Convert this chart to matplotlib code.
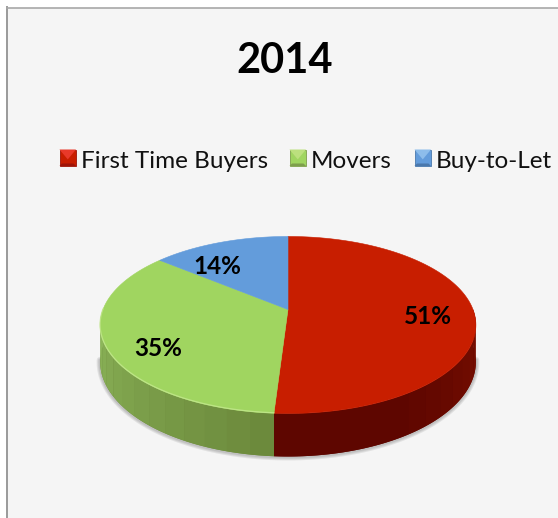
"""Perspective pie of 2014 buyer shares, drawn in pixel space."""

import numpy as np
import matplotlib

matplotlib.use("Agg")
import matplotlib.pyplot as plt
from matplotlib.collections import PolyCollection
from matplotlib.patches import Polygon, Rectangle

TITLE = "2014"
categories = ["First Time Buyers", "Movers", "Buy-to-Let"]
shares = [51, 35, 14]
share_labels = ["51%", "35%", "14%"]

top_colors = ["#C81E00", "#A0D560", "#639CDB"]
side_start = ["#7C0F00", "#8DB65A", "#4F7DB0"]
side_end = ["#5E0600", "#6C8A3C", "#3E6590"]
legend_light = ["#E8392A", "#BCE07E", "#8DBDEB"]
legend_dark = ["#9E1408", "#7E9F4C", "#4A78AC"]

# pie geometry in image pixels
CX, CY = 288.0, 309.5
RX, RY = 185.0, 85.8
PERSP = 0.175
DEPTH = 43.0


def project(angle):
    """Angle clockwise from 12 o'clock on the disc to image x, y."""
    u = np.sin(angle)
    v = np.cos(angle)
    w = 1 + PERSP * v
    return CX + RX * u / w, CY - RY * v / w


def wall_height(angle):
    # the wall shrinks away from the front, same perspective as the disc
    return DEPTH * (1 - PERSP) / (1 + PERSP * np.cos(angle))


def slice_bounds():
    edges = np.cumsum([0] + shares) / sum(shares) * 2 * np.pi
    return list(zip(edges[:-1], edges[1:]))


fig = plt.figure(figsize=(5.58, 5.18), dpi=100, facecolor="white")
ax = fig.add_axes([0, 0, 1, 1])
ax.set_xlim(0, 558)
ax.set_ylim(518, 0)
ax.axis("off")

# chart area and its border
ax.add_patch(Rectangle((7, 8), 551, 510, fc="#F5F5F5", ec="none", zorder=0))
ax.plot([6.5, 6.5], [7, 518], color="#9A9A9A", lw=1.4, zorder=1)
ax.plot([6.5, 558], [7.5, 7.5], color="#A8A8A8", lw=1.2, zorder=1)

# soft shadow under the front of the wall
ring = np.linspace(np.pi * 0.55, np.pi * 1.45, 240)
sx, sy = project(ring)
for lw in [5, 3.5, 2]:
    ax.plot(sx, sy + wall_height(ring) + 0.5, color="#555555", alpha=0.12, lw=lw, zorder=1.5,
            solid_capstyle="round")

# side wall, only the part facing the viewer
quads = []
quad_colors = []
for i, (a0, a1) in enumerate(slice_bounds()):
    a0 = max(a0, np.pi / 2)
    a1 = min(a1, 3 * np.pi / 2)
    if a1 <= a0:
        continue
    steps = np.linspace(a0, a1, int((a1 - a0) * 9) + 2)

    # solid base so the seams between facets stay closed
    arc = np.linspace(a0, a1, 160)
    bx, by = project(arc)
    bh = wall_height(arc)
    outline = list(zip(bx, by)) + list(zip(bx[::-1], (by + bh)[::-1]))
    ax.add_patch(Polygon(outline, closed=True, fc=side_end[i], ec="none", zorder=1.8))

    c0 = np.array(matplotlib.colors.to_rgb(side_start[i]))
    c1 = np.array(matplotlib.colors.to_rgb(side_end[i]))
    for j in range(len(steps) - 1):
        fine = np.linspace(steps[j], steps[j + 1], 12)
        fx, fy = project(fine)
        fh = wall_height(fine)
        quads.append(list(zip(fx, fy)) + list(zip(fx[::-1], (fy + fh)[::-1])))
        # darkest toward the front for green, toward the right for red
        t = j / max(len(steps) - 2, 1)
        t = 1 - t if i == 1 else min(t * 1.6, 1)
        quad_colors.append(c0 * (1 - t) + c1 * t)
ax.add_collection(PolyCollection(quads, facecolors=quad_colors, edgecolors="none", zorder=2))

# top faces
for i, (a0, a1) in enumerate(slice_bounds()):
    arc = np.linspace(a0, a1, 200)
    px, py = project(arc)
    pts = [(CX, CY)] + list(zip(px, py))
    ax.add_patch(Polygon(pts, closed=True, fc=top_colors[i], ec=top_colors[i], lw=0.4, zorder=3))

# thin bevel line on the front rim of the green slice
front = slice_bounds()
arc = np.linspace(max(front[1][0], np.pi / 2), min(front[1][1], 3 * np.pi / 2), 120)
px, py = project(arc)
ax.plot(px, py - 0.5, color="#C4E88F", lw=0.9, alpha=0.8, zorder=4)

# slice labels
label_xy = [(428, 317), (158, 349), (217, 266)]
for text, (x, y) in zip(share_labels, label_xy):
    ax.text(x, y, text, fontsize=17.5, fontweight="bold", family="Lato", color="black",
            ha="center", va="center", zorder=5)

ax.text(285, 61, TITLE, fontsize=30, fontweight="bold", family="Lato", color="black",
        ha="center", va="center", zorder=5)

# legend with bevelled swatches
swatch_x = [59.5, 289.5, 414.5]
text_x = [81, 311, 436]
SW = 16.5
sy0 = 149.5
for i, name in enumerate(categories):
    x0 = swatch_x[i]
    ax.add_patch(Rectangle((x0, sy0), SW, SW, fc=top_colors[i], ec=legend_dark[i], lw=0.6, zorder=5))
    ax.add_patch(Polygon([(x0, sy0), (x0 + SW, sy0), (x0 + SW / 2, sy0 + SW * 0.6)],
                         closed=True, fc=legend_light[i], ec="none", zorder=6))
    ax.add_patch(Polygon([(x0, sy0 + SW), (x0 + SW, sy0 + SW), (x0 + SW - 2.5, sy0 + SW - 2.5), (x0 + 2.5, sy0 + SW - 2.5)],
                         closed=True, fc=legend_dark[i], ec="none", zorder=6))
    ax.text(text_x[i], 168, name, fontsize=17.45, family="Lato", color="#111111",
            ha="left", va="baseline", zorder=5)

fig.savefig("out.png", dpi=100, facecolor=fig.get_facecolor())
plt.close(fig)
